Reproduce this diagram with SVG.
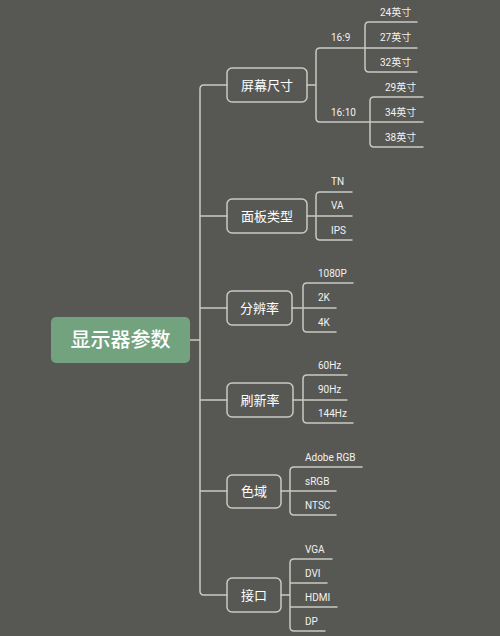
<svg xmlns="http://www.w3.org/2000/svg" width="500" height="636" viewBox="0 0 500 636">
<style>
.ln{fill:none;stroke:#c9c9c4;stroke-width:1.5;stroke-linecap:round}
.nd{fill:none;stroke:#c9c9c4;stroke-width:1.5}
.nt{font-family:Roboto,"Noto Sans CJK SC",sans-serif;font-size:13px;fill:#ffffff;text-anchor:middle}
.lf{font-family:Roboto,"Noto Sans CJK SC",sans-serif;font-size:10px;fill:#f2f2f2}
</style>
<rect width="500" height="636" fill="#575853"/>
<g id="connectors">
<path class="ln" d="M190,340 H200 M200,89 Q200,85 204,85 H227 M200,591 Q200,595 204,595 H227 M200,89 V591 M200,216 H227 M200,308 H227 M200,400 H227 M200,491 H227"/>
<path class="ln" d="M307,85 H316 M316,85 V52 Q316,48 320,48 H365 M316,85 V118 Q316,122 320,122 H370"/>
<path class="ln" d="M365,48 V26 Q365,22 369,22 H417 M365,48 H417 M365,48 V68 Q365,72 369,72 H417"/>
<path class="ln" d="M370,122 V101 Q370,97 374,97 H423 M370,122 H423 M370,122 V143 Q370,147 374,147 H423"/>
<path class="ln" d="M307,216 H352 M316,216 V196 Q316,192 320,192 H352 M316,216 V236 Q316,240 320,240 H352"/>
<path class="ln" d="M292,308 H336 M303,308 V287 Q303,283 307,283 H353 M303,308 V328 Q303,332 307,332 H336"/>
<path class="ln" d="M293,400 H347 M303,400 V379 Q303,375 307,375 H347 M303,400 V419 Q303,423 307,423 H353"/>
<path class="ln" d="M281,491 H336 M290,491 V471 Q290,467 294,467 H362 M290,491 V511 Q290,515 294,515 H336"/>
<path class="ln" d="M281,595 H290 M290,595 V563 Q290,559 294,559 H332 M290,583 H327 M290,607 H337 M290,595 V627 Q290,631 294,631 H325"/>
</g>
<g id="root">
<rect x="51" y="317" width="139" height="46" rx="5" fill="#72a37e"/>
<text x="120.5" y="347" font-family="Roboto,'Noto Sans CJK SC',sans-serif" font-size="20" font-weight="500" fill="#ffffff" text-anchor="middle">显示器参数</text>
</g>
<g id="n-screen">
<rect class="nd" x="227" y="68" width="80" height="34" rx="5"/>
<text class="nt" x="267" y="90">屏幕尺寸</text>
</g>
<g id="n-panel">
<rect class="nd" x="227" y="199" width="80" height="34" rx="5"/>
<text class="nt" x="267" y="221">面板类型</text>
</g>
<g id="n-res">
<rect class="nd" x="227" y="291" width="65" height="34" rx="5"/>
<text class="nt" x="259.5" y="313">分辨率</text>
</g>
<g id="n-refresh">
<rect class="nd" x="227" y="383" width="66" height="34" rx="5"/>
<text class="nt" x="260" y="405">刷新率</text>
</g>
<g id="n-gamut">
<rect class="nd" x="227" y="475" width="54" height="33" rx="5"/>
<text class="nt" x="254" y="496">色域</text>
</g>
<g id="n-port">
<rect class="nd" x="227" y="578" width="54" height="34" rx="5"/>
<text class="nt" x="254" y="600">接口</text>
</g>
<g id="leaves">
<text class="lf" x="331" y="41">16:9</text>
<text class="lf" x="331" y="116">16:10</text>
<text class="lf" x="380" y="16">24英寸</text>
<text class="lf" x="380" y="41">27英寸</text>
<text class="lf" x="380" y="66">32英寸</text>
<text class="lf" x="385" y="91">29英寸</text>
<text class="lf" x="385" y="116">34英寸</text>
<text class="lf" x="385" y="141">38英寸</text>
<text class="lf" x="331" y="185">TN</text>
<text class="lf" x="331" y="209">VA</text>
<text class="lf" x="331" y="234">IPS</text>
<text class="lf" x="318" y="277">1080P</text>
<text class="lf" x="318" y="301">2K</text>
<text class="lf" x="318" y="326">4K</text>
<text class="lf" x="318" y="369">60Hz</text>
<text class="lf" x="318" y="393">90Hz</text>
<text class="lf" x="318" y="417">144Hz</text>
<text class="lf" x="305" y="461">Adobe RGB</text>
<text class="lf" x="305" y="485">sRGB</text>
<text class="lf" x="305" y="509">NTSC</text>
<text class="lf" x="305" y="553">VGA</text>
<text class="lf" x="305" y="577">DVI</text>
<text class="lf" x="305" y="601">HDMI</text>
<text class="lf" x="305" y="625">DP</text>
</g>
</svg>
